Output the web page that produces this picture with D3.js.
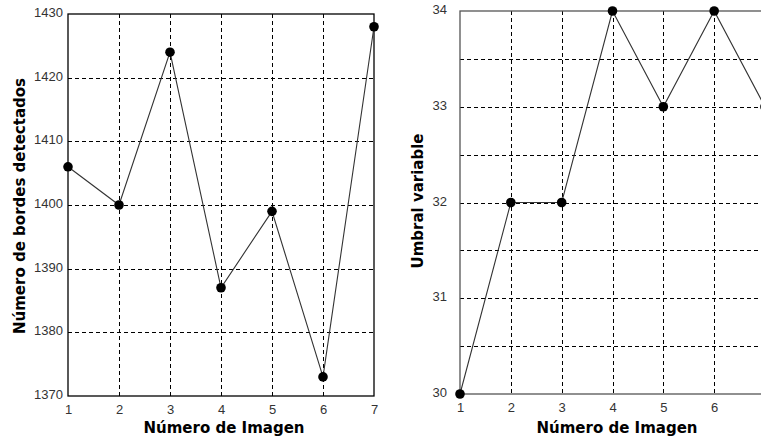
<!DOCTYPE html>
<html>
<head>
<meta charset="utf-8">
<script src="https://cdn.jsdelivr.net/npm/d3@7"></script>
<style>
  html, body { margin: 0; padding: 0; background: #fff; }
  svg { display: block; }
  .tick text { font-family: "Liberation Sans", Arial, sans-serif; font-size: 13px; fill: #333; }
  .title { font-family: "DejaVu Sans", "Liberation Sans", Arial, sans-serif; font-size: 15px; font-weight: bold; fill: #000; }
</style>
</head>
<body>
<svg id="chart" width="761" height="441"></svg>
<script>
// Image number (shared x values)
const imagenes = [1, 2, 3, 4, 5, 6, 7];
// Detected edges per image
const bordes = [1406, 1400, 1424, 1387, 1399, 1373, 1428];
// Variable threshold per image
const umbral = [30, 32, 32, 34, 33, 34, 33];

const bordesTicks = [1370, 1380, 1390, 1400, 1410, 1420, 1430];
const umbralTicks = [30, 31, 32, 33, 34];
const umbralGrid = [30.5, 31, 31.5, 32, 32.5, 33, 33.5];
const umbralXTicks = [1, 2, 3, 4, 5, 6];

const svg = d3.select("#chart");

function panel(opts) {
  const g = svg.append("g");
  const x = d3.scaleLinear().domain([1, 7]).range([opts.x0, opts.x1]);
  const y = d3.scaleLinear().domain(opts.yDomain).range([opts.y0, opts.y1]);

  // dashed grid
  const grid = g.append("g").attr("stroke", "#000").attr("stroke-width", 1)
    .attr("stroke-dasharray", "4,3").attr("shape-rendering", "crispEdges");
  grid.selectAll(".vg").data(imagenes.slice(1, 6)).join("line")
    .attr("x1", d => Math.round(x(d)) + 0.5).attr("x2", d => Math.round(x(d)) + 0.5)
    .attr("y1", y.range()[1]).attr("y2", y.range()[0]);
  grid.selectAll(".hg").data(opts.grid).join("line")
    .attr("y1", d => Math.round(y(d)) + 0.5).attr("y2", d => Math.round(y(d)) + 0.5)
    .attr("x1", opts.x0).attr("x2", opts.x1);

  // frame
  const frame = g.append("g").attr("stroke", opts.frameColor).attr("stroke-width", 1.3).attr("fill", "none");
  frame.append("rect")
    .attr("x", opts.x0).attr("y", y.range()[1])
    .attr("width", opts.x1 - opts.x0).attr("height", y.range()[0] - y.range()[1]);

  // axes (labels only)
  const ax = g.append("g").attr("transform", `translate(0,${opts.y0})`)
    .call(d3.axisBottom(x).tickValues(opts.xTicks).tickFormat(d3.format("d")).tickSize(0).tickPadding(9));
  ax.select(".domain").remove();
  const ay = g.append("g").attr("transform", `translate(${opts.x0},0)`)
    .call(d3.axisLeft(y).tickValues(opts.ticks).tickFormat(d3.format("d")).tickSize(0).tickPadding(opts.yPad));
  ay.select(".domain").remove();
  ay.selectAll(".tick text").attr("dy", "0.2em");

  // series
  const line = d3.line().x((d, i) => x(imagenes[i])).y(d => y(d));
  g.append("path").datum(opts.values)
    .attr("d", line).attr("fill", "none").attr("stroke", "#333").attr("stroke-width", 1.1);
  g.selectAll(".pt").data(opts.values).join("circle")
    .attr("cx", (d, i) => x(imagenes[i])).attr("cy", d => y(d)).attr("r", 4.8).attr("fill", "#000");

  // titles
  svg.append("text").attr("class", "title")
    .attr("x", opts.xTitleX).attr("y", 433).attr("text-anchor", "middle")
    .text("Número de Imagen");
  svg.append("text").attr("class", "title")
    .attr("transform", `translate(${opts.yTitleX},${opts.yTitleY}) rotate(-90)`)
    .attr("text-anchor", "middle").text(opts.yTitle);
}

panel({
  x0: 68, x1: 374, y0: 396, y1: 14,
  yDomain: [1370, 1430], ticks: bordesTicks, grid: bordesTicks.slice(1, 6), xTicks: imagenes,
  values: bordes, frameColor: "#000", yPad: 5,
  xTitleX: 224, yTitleX: 25, yTitleY: 206, yTitle: "Número de bordes detectados"
});

panel({
  x0: 460, x1: 765, y0: 394, y1: 11,
  yDomain: [30, 34], ticks: umbralTicks, grid: umbralGrid, xTicks: umbralXTicks,
  values: umbral, frameColor: "#555", yPad: 13,
  xTitleX: 617, yTitleX: 423, yTitleY: 201, yTitle: "Umbral variable"
});
</script>
</body>
</html>
